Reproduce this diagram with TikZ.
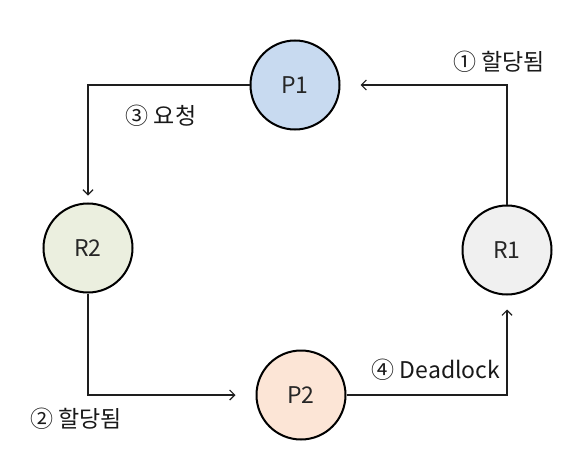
\documentclass[tikz,border=0pt]{standalone}
\usepackage{fontspec}
\setmainfont{Noto Sans CJK KR}
\usetikzlibrary{arrows.meta}
\definecolor{pone}{RGB}{200,218,240}
\definecolor{ptwo}{RGB}{252,229,214}
\definecolor{rone}{RGB}{240,240,240}
\definecolor{rtwo}{RGB}{235,239,223}
\definecolor{linec}{RGB}{30,30,30}
\tikzset{
  circ/.style={circle, draw=black, line width=2pt, minimum size=89pt, inner sep=0pt, font=\fontsize{23}{26}\selectfont, text=black!85},
  arr/.style={draw=linec, line width=1.2pt, -{Straight Barb[length=5pt,width=10pt]}},
  lbl/.style={font=\fontsize{23}{27}\selectfont, text=black!90, inner sep=0pt}
}
\begin{document}
\begin{tikzpicture}[x=1pt,y=-1pt]
\useasboundingbox (0,0) rectangle (582,471);
\node[circ, fill=pone] (P1) at (295,85) {P1};
\node[circ, fill=rone] (R1) at (507,250) {R1};
\node[circ, fill=rtwo] (R2) at (88,248) {R2};
\node[circ, fill=ptwo] (P2) at (301,395) {P2};
\draw[arr, shorten >=7pt] (P1.west) -| (R2.north);
\draw[arr, shorten >=20pt] (R1.north) |- (P1.east);
\draw[arr, shorten >=20pt] (R2.south) |- (P2.west);
\draw[arr, shorten >=14pt] (P2.east) -| (R1.south);
\node[lbl] (l1) at (499,62) {① 할당됨};
\node[lbl] (l3) at (161,116) {③ 요청};
\node[lbl] (l2) at (76,419) {② 할당됨};
\node[lbl] (l4) at (436,370) {④ Deadlock};
\end{tikzpicture}
\end{document}
